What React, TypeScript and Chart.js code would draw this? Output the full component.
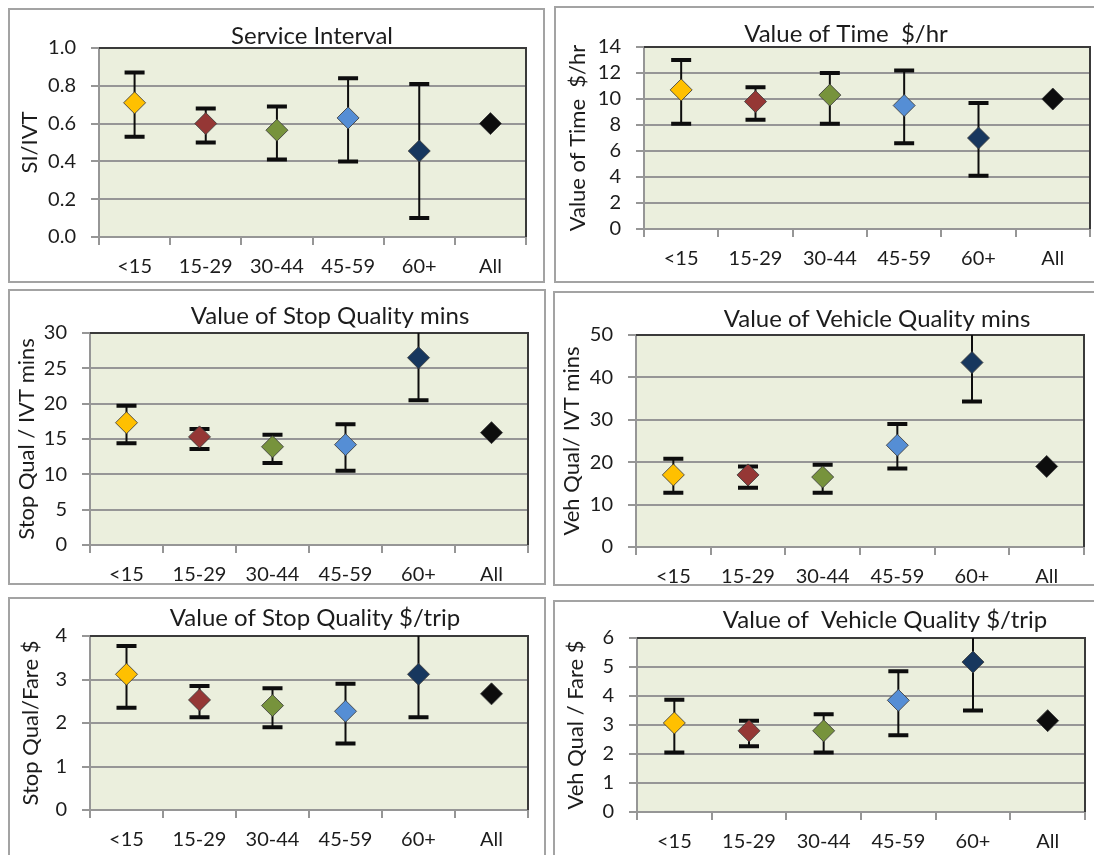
import React, { useEffect, useRef } from 'react';
import { Chart, registerables } from 'chart.js';

Chart.register(...registerables);

// ---------- data ----------
const categories = ['<15', '15-29', '30-44', '45-59', '60+', 'All'];
const pointColors = ['#FFC000', '#953735', '#77933C', '#558ED5', '#17375E', '#0D0D0D'];

// Service Interval (SI/IVT)
const siMean = [0.71, 0.6, 0.565, 0.63, 0.455, 0.6];
const siLow = [0.53, 0.5, 0.41, 0.4, 0.1, null];
const siHigh = [0.87, 0.68, 0.69, 0.84, 0.81, null];

// Value of Time $/hr
const votMean = [10.7, 9.8, 10.3, 9.5, 7.0, 10.0];
const votLow = [8.1, 8.4, 8.1, 6.6, 4.1, null];
const votHigh = [13.0, 10.9, 12.0, 12.2, 9.7, null];

// Value of Stop Quality mins
const sqmMean = [17.3, 15.3, 13.9, 14.2, 26.5, 15.9];
const sqmLow = [14.4, 13.6, 11.6, 10.5, 20.5, null];
const sqmHigh = [19.7, 16.4, 15.6, 17.1, 32.5, null];

// Value of Vehicle Quality mins
const vqmMean = [17.0, 17.0, 16.5, 24.0, 43.5, 19.0];
const vqmLow = [12.8, 14.0, 12.8, 18.5, 34.3, null];
const vqmHigh = [20.8, 19.0, 19.4, 29.0, 52.7, null];

// Value of Stop Quality $/trip
const sqdMean = [3.12, 2.53, 2.4, 2.27, 3.12, 2.67];
const sqdLow = [2.35, 2.13, 1.9, 1.53, 2.13, null];
const sqdHigh = [3.77, 2.85, 2.8, 2.9, 4.11, null];

// Value of Vehicle Quality $/trip
const vqdMean = [3.07, 2.8, 2.8, 3.85, 5.17, 3.15];
const vqdLow = [2.05, 2.27, 2.05, 2.65, 3.5, null];
const vqdHigh = [3.87, 3.15, 3.37, 4.85, 6.84, null];

// ---------- panel setup ----------
const FONT = 'Lato, "Open Sans", sans-serif';
const TEXT = '#1c1c1c';
const GRID = '#969696';
const PLOT_BG = '#EBEFDD';

type PanelCfg = {
  title: string;
  yTitle: string;
  mean: number[];
  low: (number | null)[];
  high: (number | null)[];
  min: number;
  max: number;
  step: number;
  decimals: number;
  box: { x: number; y: number; w: number; h: number };
  plot: { l: number; t: number; r: number; b: number };
  titleX: number;
  titleBase: number;
  yTitleX: number;
};

const panels: PanelCfg[] = [
  {
    title: 'Service Interval', yTitle: 'SI/IVT', mean: siMean, low: siLow, high: siHigh,
    min: 0, max: 1, step: 0.2, decimals: 1,
    box: { x: 8, y: 8, w: 537, h: 275 }, plot: { l: 99, t: 48, r: 526, b: 237 },
    titleX: 312, titleBase: 44, yTitleX: 30,
  },
  {
    title: 'Value of Time  $/hr', yTitle: 'Value of Time  $/hr', mean: votMean, low: votLow, high: votHigh,
    min: 0, max: 14, step: 2, decimals: 0,
    box: { x: 554, y: 6, w: 560, h: 277 }, plot: { l: 644, t: 47, r: 1090, b: 229 },
    titleX: 846, titleBase: 42, yTitleX: 578,
  },
  {
    title: 'Value of Stop Quality mins', yTitle: 'Stop Qual / IVT mins', mean: sqmMean, low: sqmLow, high: sqmHigh,
    min: 0, max: 30, step: 5, decimals: 0,
    box: { x: 8, y: 289, w: 538, h: 296 }, plot: { l: 90, t: 333, r: 528, b: 545 },
    titleX: 330, titleBase: 324, yTitleX: 27,
  },
  {
    title: 'Value of Vehicle Quality mins', yTitle: 'Veh Qual/ IVT mins', mean: vqmMean, low: vqmLow, high: vqmHigh,
    min: 0, max: 50, step: 10, decimals: 0,
    box: { x: 553, y: 291, w: 560, h: 295 }, plot: { l: 636, t: 335, r: 1084, b: 547 },
    titleX: 877, titleBase: 327, yTitleX: 572,
  },
  {
    title: 'Value of Stop Quality $/trip', yTitle: 'Stop Qual/Fare $', mean: sqdMean, low: sqdLow, high: sqdHigh,
    min: 0, max: 4, step: 1, decimals: 0,
    box: { x: 8, y: 597, w: 538, h: 270 }, plot: { l: 90, t: 636, r: 528, b: 810 },
    titleX: 315, titleBase: 626, yTitleX: 31,
  },
  {
    title: 'Value of  Vehicle Quality $/trip', yTitle: 'Veh Qual / Fare $', mean: vqdMean, low: vqdLow, high: vqdHigh,
    min: 0, max: 6, step: 1, decimals: 0,
    box: { x: 553, y: 600, w: 560, h: 270 }, plot: { l: 637, t: 638, r: 1085, b: 812 },
    titleX: 885, titleBase: 628, yTitleX: 576,
  },
];

const BORDER = 2;
const TICK_FONT = 20;
const TITLE_FONT = 24;
const YTITLE_FONT = 22;

function Panel({ cfg }: { cfg: PanelCfg }) {
  const ref = useRef<HTMLCanvasElement | null>(null);
  const cx = cfg.box.x + BORDER;
  const cy = cfg.box.y + BORDER;
  const cw = cfg.box.w - 2 * BORDER;
  const ch = cfg.box.h - 2 * BORDER;

  useEffect(() => {
    if (!ref.current) return;
    const plot = cfg.plot;
    const yTitleLine = YTITLE_FONT * 1.2;

    const plotFrame = {
      id: 'plotFrame',
      beforeDraw(chart: any) {
        const { ctx, chartArea: a } = chart;
        ctx.save();
        ctx.fillStyle = PLOT_BG;
        ctx.fillRect(a.left, a.top, a.right - a.left, a.bottom - a.top);
        ctx.restore();
      },
      beforeDatasetsDraw(chart: any) {
        const { ctx, chartArea: a } = chart;
        ctx.save();
        ctx.strokeStyle = '#3a3a3a';
        ctx.lineWidth = 2;
        ctx.beginPath();
        ctx.moveTo(a.left, a.top);
        ctx.lineTo(a.right, a.top);
        ctx.lineTo(a.right, a.bottom);
        ctx.stroke();
        ctx.restore();
      },
      afterDraw(chart: any) {
        const { ctx } = chart;
        ctx.save();
        ctx.fillStyle = TEXT;
        ctx.font = `${TITLE_FONT}px ${FONT}`;
        ctx.textAlign = 'center';
        ctx.textBaseline = 'alphabetic';
        ctx.fillText(cfg.title, cfg.titleX - cx, cfg.titleBase - cy);
        ctx.restore();
      },
    };

    const errorBars = {
      id: 'errorBars',
      beforeDatasetsDraw(chart: any) {
        const { ctx, chartArea: a } = chart;
        const xs = chart.scales.x;
        const ys = chart.scales.y;
        ctx.save();
        ctx.beginPath();
        ctx.rect(a.left, a.top, a.right - a.left, a.bottom - a.top);
        ctx.clip();
        ctx.strokeStyle = '#0d0d0d';
        cfg.mean.forEach((_m, i) => {
          const lo = cfg.low[i];
          const hi = cfg.high[i];
          if (lo == null || hi == null) return;
          const px = xs.getPixelForValue(i);
          const yl = ys.getPixelForValue(lo);
          const yh = ys.getPixelForValue(hi);
          ctx.lineWidth = 2;
          ctx.beginPath();
          ctx.moveTo(px, yh);
          ctx.lineTo(px, yl);
          ctx.stroke();
          ctx.lineWidth = 4;
          ctx.beginPath();
          ctx.moveTo(px - 10, yh);
          ctx.lineTo(px + 10, yh);
          ctx.moveTo(px - 10, yl);
          ctx.lineTo(px + 10, yl);
          ctx.stroke();
        });
        ctx.restore();
      },
    };

    const chart = new Chart(ref.current, {
      type: 'line',
      data: {
        labels: categories,
        datasets: [
          {
            data: cfg.mean,
            showLine: false,
            borderWidth: 0,
            pointStyle: 'rectRot',
            pointRadius: 11,
            pointHoverRadius: 11,
            pointBackgroundColor: pointColors,
            pointBorderColor: 'rgba(60,60,60,0.85)',
            pointBorderWidth: 1,
          },
        ],
      },
      options: {
        responsive: false,
        animation: false,
        events: [],
        layout: {
          padding: { left: 0, top: plot.t - cy, right: cx + cw - plot.r, bottom: 0 },
        },
        plugins: {
          legend: { display: false },
          tooltip: { enabled: false },
          title: { display: false },
        },
        scales: {
          x: {
            type: 'category',
            offset: true,
            grid: {
              offset: true,
              drawOnChartArea: false,
              drawTicks: true,
              tickLength: 8,
              color: GRID,
              lineWidth: 2,
            },
            border: { color: GRID, width: 2 },
            ticks: {
              font: { family: FONT, size: TICK_FONT },
              color: TEXT,
              padding: 10,
              maxRotation: 0,
              autoSkip: false,
            },
            afterFit: (s: any) => {
              s.height = cy + ch - plot.b;
            },
          },
          y: {
            min: cfg.min,
            max: cfg.max,
            ticks: {
              stepSize: cfg.step,
              autoSkip: false,
              font: { family: FONT, size: TICK_FONT },
              color: TEXT,
              padding: 15,
              callback: (v: any) => Number(v).toFixed(cfg.decimals),
            },
            grid: { color: GRID, lineWidth: 2, tickLength: 8, drawTicks: true },
            border: { color: GRID, width: 2 },
            title: {
              display: true,
              text: cfg.yTitle,
              font: { family: FONT, size: YTITLE_FONT },
              color: TEXT,
              padding: { top: cfg.yTitleX - cx - yTitleLine / 2, bottom: 0 },
            },
            afterFit: (s: any) => {
              s.width = plot.l - cx;
            },
          },
        },
      },
      plugins: [plotFrame, errorBars],
    } as any);
    return () => chart.destroy();
  }, []);

  return (
    <div
      style={{
        position: 'absolute',
        left: cfg.box.x,
        top: cfg.box.y,
        width: cfg.box.w,
        height: cfg.box.h,
        boxSizing: 'border-box',
        border: `${BORDER}px solid #a3a3a3`,
        background: '#ffffff',
      }}
    >
      <canvas ref={ref} width={cw} height={ch} style={{ display: 'block' }} />
    </div>
  );
}

export default function App() {
  return (
    <div
      style={{
        position: 'absolute',
        left: 0,
        top: 0,
        width: 1094,
        height: 855,
        overflow: 'hidden',
        background: '#ffffff',
      }}
    >
      {panels.map((p, i) => (
        <Panel key={i} cfg={p} />
      ))}
    </div>
  );
}
